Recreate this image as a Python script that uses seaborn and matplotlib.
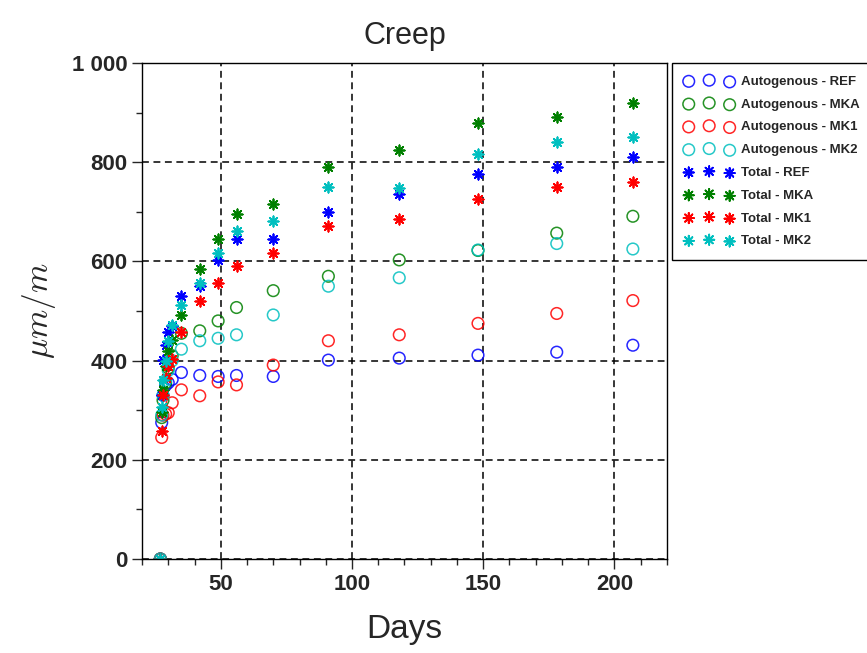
import seaborn as sns
import matplotlib.pyplot as plt
import pandas as pd
from matplotlib.ticker import MultipleLocator, FuncFormatter

# days after casting
days = [27, 27.5, 28, 29, 30, 31.5, 35, 42, 49, 56, 70, 91, 118, 148, 178, 207]

# autogenous shrinkage (um/m)
auto_ref = [0, 275, 330, 350, 355, 362, 376, 370, 368, 370, 368, 401, 405, 411, 417, 431]
auto_mka = [0, 285, 320, 355, 385, 410, 455, 460, 480, 507, 541, 570, 603, 622, 657, 691]
auto_mk1 = [0, 245, 290, 292, 295, 315, 341, 329, 357, 351, 391, 440, 452, 475, 495, 521]
auto_mk2 = [0, 290, 330, 360, 380, 400, 423, 440, 445, 452, 492, 550, 567, 623, 636, 625]

# total deformation (um/m)
tot_ref = [0, 330, 401, 431, 458, 470, 530, 550, 603, 645, 645, 700, 735, 776, 790, 811]
tot_mka = [0, 297, 340, 390, 420, 442, 492, 585, 645, 696, 716, 790, 825, 879, 891, 919]
tot_mk1 = [0, 259, 331, 365, 390, 403, 457, 520, 556, 591, 616, 671, 685, 726, 749, 761]
tot_mk2 = [0, 307, 360, 400, 440, 472, 513, 556, 616, 661, 681, 749, 747, 817, 841, 851]

series = [
    ('Autogenous - REF', auto_ref, 'o', '#0000ff'),
    ('Autogenous - MKA', auto_mka, 'o', '#008000'),
    ('Autogenous - MK1', auto_mk1, 'o', '#ff0000'),
    ('Autogenous - MK2', auto_mk2, 'o', '#00bfbf'),
    ('Total - REF', tot_ref, (8, 2, 0), '#0000ff'),
    ('Total - MKA', tot_mka, (8, 2, 0), '#008000'),
    ('Total - MK1', tot_mk1, (8, 2, 0), '#ff0000'),
    ('Total - MK2', tot_mk2, (8, 2, 0), '#00bfbf'),
]

sns.set_style('ticks')
plt.rcParams['font.family'] = ['Liberation Sans', 'DejaVu Sans']
plt.rcParams['mathtext.fontset'] = 'cm'

fig = plt.figure(figsize=(8.67, 6.53), dpi=100)
ax = fig.add_axes([0.1638, 0.1440, 0.6055, 0.7595])

for name, vals, mk, col in series:
    df = pd.DataFrame({'day': days, 'val': vals})
    if mk == 'o':
        sns.scatterplot(data=df, x='day', y='val', ax=ax, marker='o', s=70,
                        facecolors='none', edgecolor=col, linewidth=1.1,
                        alpha=0.85, label=name)
    else:
        sns.scatterplot(data=df, x='day', y='val', ax=ax, marker=mk, s=55,
                        edgecolor=col, color=col, linewidth=1.3, label=name)

ax.set_xlim(20, 220)
ax.set_ylim(0, 1000)
ax.xaxis.set_major_locator(MultipleLocator(50))
ax.xaxis.set_minor_locator(MultipleLocator(10))
ax.yaxis.set_major_locator(MultipleLocator(200))
ax.yaxis.set_minor_locator(MultipleLocator(100))
ax.yaxis.set_major_formatter(FuncFormatter(lambda v, p: f'{int(v):,}'.replace(',', ' ')))

ax.grid(True, which='major', color='black', linestyle=(0, (4.5, 3)), linewidth=1.1)
ax.tick_params(which='major', direction='out', length=7, width=1, labelsize=16)
ax.tick_params(which='minor', direction='out', length=4, width=1)
for lab in ax.get_xticklabels() + ax.get_yticklabels():
    lab.set_fontweight('bold')
for sp in ax.spines.values():
    sp.set_visible(True)
    sp.set_color('black')
    sp.set_linewidth(1)

ax.set_title('Creep', fontsize=22, pad=14)
ax.set_xlabel('Days', fontsize=24, labelpad=14)
ax.set_ylabel(r'$\mu m/m$', fontsize=24, labelpad=10)

# legend sits outside the axes on the right, three markers per entry
leg = ax.legend(loc='upper left', bbox_to_anchor=(1.01, 1.0), borderaxespad=0,
                scatterpoints=3, fancybox=False, edgecolor='black', framealpha=1,
                prop={'weight': 'bold', 'size': 9.5}, labelspacing=0.8,
                handlelength=3.7, handletextpad=0.55, borderpad=0.95)
leg.get_frame().set_linewidth(1)

fig.savefig('out.png', dpi=100)
